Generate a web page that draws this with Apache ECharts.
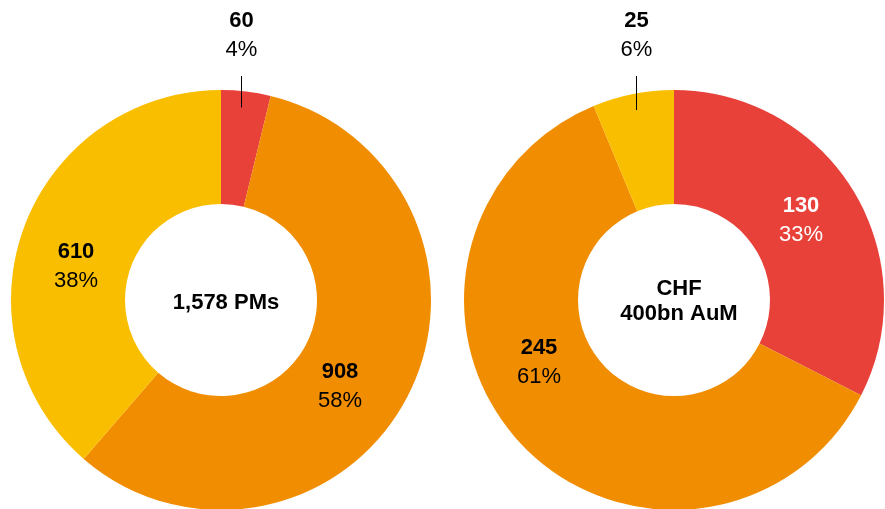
<!doctype html>
<html>
<head>
<meta charset="utf-8">
<title>PMs and AuM</title>
<style>
  html, body { margin: 0; padding: 0; background: #fff; }
  #main { width: 885px; height: 509px; }
</style>
</head>
<body>
<div id="main"></div>
<script src="https://cdn.jsdelivr.net/npm/echarts@6/dist/echarts.min.js"></script>
<script>
// data
var segments = ['Red', 'Orange', 'Yellow'];
var pmValues = [60, 908, 610];
var pmShares = ['4%', '58%', '38%'];
var aumValues = [130, 245, 25];
var aumShares = ['33%', '61%', '6%'];
var centreTexts = ['1,578 PMs', 'CHF\n400bn AuM'];

var colors = ['#E8413A', '#F18D00', '#FABE00'];
var font = '"Liberation Sans", Arial, Helvetica, sans-serif';

// label placement: centre point for inside labels, null = outside label with a leader line
var pmLabelPos = [null, [340, 386], [76, 266]];
var aumLabelPos = [[801, 220], [539, 362], null];
var outsideY = 35;
var lineTop = 76;

function total(arr) {
	return arr.reduce(function (a, b) { return a + b; }, 0);
}

// base ring: sectors only
function ringSeries(values, centre) {
	return {
		type: 'pie',
		z: 2,
		center: centre,
		radius: [96, 210],
		startAngle: 90,
		clockwise: true,
		silent: true,
		label: { show: false },
		labelLine: { show: false },
		data: values.map(function (v, i) {
			return { name: segments[i], value: v, itemStyle: { color: colors[i] } };
		})
	};
}

// transparent ring on top that carries the labels, so leader lines sit over the sectors
function labelSeries(values, shares, centre, positions, lineShift) {
	return {
		type: 'pie',
		z: 3,
		center: centre,
		radius: [96, 210],
		startAngle: 90,
		clockwise: true,
		silent: true,
		avoidLabelOverlap: false,
		label: {
			show: true,
			formatter: function (p) { return '{v|' + p.value + '}\n{p|' + p.data.share + '}'; }
		},
		labelLine: { length: 10, length2: 10 },
		labelLayout: function (params) {
			var pos = positions[params.dataIndex];
			if (pos) {
				return { x: pos[0], y: pos[1], align: 'center', verticalAlign: 'middle' };
			}
			var p0 = params.labelLinePoints[0];
			var x0 = Math.round(p0[0] + lineShift) + 0.5;
			return {
				x: x0, y: outsideY, align: 'center', verticalAlign: 'middle',
				labelLinePoints: [[x0, p0[1] + 16], [x0, lineTop], [x0, lineTop]]
			};
		},
		data: values.map(function (v, i) {
			var outside = positions[i] === null;
			var txt = (i === 0 && !outside) ? '#fff' : '#000';
			return {
				name: segments[i],
				value: v,
				share: shares[i],
				itemStyle: { color: 'rgba(0,0,0,0)' },
				label: {
					position: outside ? 'outside' : 'inside',
					rich: {
						v: { fontFamily: font, fontSize: 22, fontWeight: 'bold', lineHeight: 29, color: txt },
						p: { fontFamily: font, fontSize: 22, lineHeight: 29, color: txt }
					}
				},
				labelLine: { show: outside, lineStyle: { color: '#000', width: 1, opacity: 1 } }
			};
		})
	};
}

var myChart = echarts.init(document.getElementById('main'));
var option = {
	animation: false,
	backgroundColor: '#fff',
	title: [
		{ text: centreTexts[0], left: 221, top: 298, textAlign: 'center', textVerticalAlign: 'middle',
		  textStyle: { fontFamily: font, fontSize: 22, fontWeight: 'bold', color: '#000', lineHeight: 25 } },
		{ text: centreTexts[1], left: 674, top: 296, textAlign: 'center', textVerticalAlign: 'middle',
		  textStyle: { fontFamily: font, fontSize: 22, fontWeight: 'bold', color: '#000', lineHeight: 25 } }
	],
	series: [
		ringSeries(pmValues, [221, 300]),
		ringSeries(aumValues, [674, 300]),
		labelSeries(pmValues, pmShares, [221, 300], pmLabelPos, -5),
		labelSeries(aumValues, aumShares, [674, 300], aumLabelPos, 3)
	]
};
myChart.setOption(option);
</script>
</body>
</html>
